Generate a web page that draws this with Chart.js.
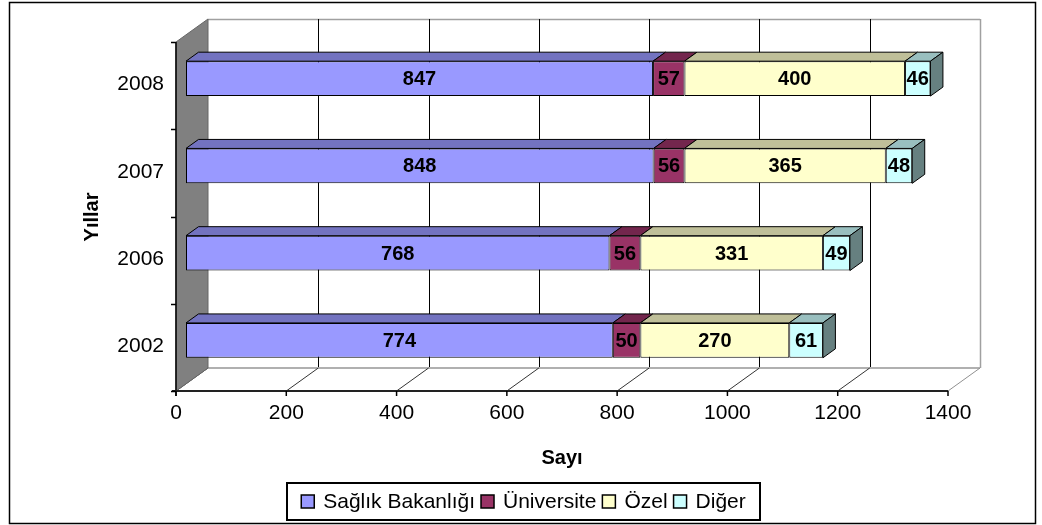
<!DOCTYPE html>
<html>
<head>
<meta charset="utf-8">
<script src="https://cdn.jsdelivr.net/npm/chart.js@4"></script>
<style>
  html, body { margin: 0; padding: 0; background: #fff; }
  canvas { display: block; }
</style>
</head>
<body>
<canvas id="c" width="1042" height="525"></canvas>
<script>
const years = ['2008', '2007', '2006', '2002'];
const saglik = [847, 848, 768, 774];
const universite = [57, 56, 56, 50];
const ozel = [400, 365, 331, 270];
const diger = [46, 48, 49, 61];
const xTicks = [0, 200, 400, 600, 800, 1000, 1200, 1400];

const seriesNames = ['Sağlık Bakanlığı', 'Üniversite', 'Özel', 'Diğer'];
const fronts = ['#9999FF', '#993366', '#FFFFCC', '#CCFFFF'];
const tops = ['#7373C0', '#73264D', '#BFBF99', '#99BFBF'];
const sideColor = '#668080';

// 3d offsets relative to the bar plane (= chart area)
const FRONT = { dx: -10, dy: 7 };
const BACK = { dx: 22, dy: -16 };
const DEPTH = { dx: 12.5, dy: -9 };
const FONT = '"Liberation Sans", Arial, sans-serif';

function poly(ctx, pts, fill, stroke, lw) {
  ctx.beginPath();
  ctx.moveTo(pts[0][0], pts[0][1]);
  for (let i = 1; i < pts.length; i++) ctx.lineTo(pts[i][0], pts[i][1]);
  ctx.closePath();
  if (fill) { ctx.fillStyle = fill; ctx.fill(); }
  if (stroke) { ctx.strokeStyle = stroke; ctx.lineWidth = lw || 1; ctx.stroke(); }
}
function line(ctx, x1, y1, x2, y2, color, lw) {
  ctx.beginPath();
  ctx.moveTo(x1, y1);
  ctx.lineTo(x2, y2);
  ctx.strokeStyle = color;
  ctx.lineWidth = lw || 1;
  ctx.stroke();
}

const box3d = {
  id: 'box3d',
  beforeDatasetsDraw(chart) {
    const ctx = chart.ctx;
    const ca = chart.chartArea;
    const xs = chart.scales.x;
    ctx.save();

    const x0 = xs.getPixelForValue(0), x1 = xs.getPixelForValue(1400);
    const fy0 = ca.top + FRONT.dy, fy1 = ca.bottom + FRONT.dy;
    const by0 = ca.top + BACK.dy, by1 = ca.bottom + BACK.dy;

    // back wall
    ctx.fillStyle = '#fff';
    ctx.fillRect(x0 + BACK.dx, by0, x1 - x0, by1 - by0);
    line(ctx, x0 + BACK.dx, by0 + 0.5, x1 + BACK.dx, by0 + 0.5, '#a0a0a0', 1.5);
    line(ctx, x1 + BACK.dx + 0.5, by0, x1 + BACK.dx + 0.5, by1, '#a0a0a0', 1.5);

    // gridlines on back wall
    xTicks.forEach(v => {
      if (v === 0 || v === 1400) return;
      const px = Math.round(xs.getPixelForValue(v) + BACK.dx) + 0.5;
      line(ctx, px, by0, px, by1, '#000', 1);
    });

    // floor
    line(ctx, x0 + BACK.dx, by1, x1 + BACK.dx, by1, '#b0b0b0', 2);
    xTicks.forEach(v => {
      const px = xs.getPixelForValue(v);
      line(ctx, px + FRONT.dx, fy1, px + BACK.dx, by1, v === 1400 ? '#909090' : '#333', 1);
    });

    // side wall
    poly(ctx, [[x0 + FRONT.dx, fy0], [x0 + BACK.dx, by0], [x0 + BACK.dx, by1], [x0 + FRONT.dx, fy1]], '#808080', '#666', 1);

    // axes on front plane
    line(ctx, x0 + FRONT.dx, fy0, x0 + FRONT.dx, fy1 + 5, '#000', 1.5);
    line(ctx, x0 + FRONT.dx - 4, fy1, x1 + FRONT.dx, fy1, '#222', 2);
    for (let k = 0; k <= years.length; k++) {
      const py = Math.round(fy0 + k * (fy1 - fy0) / years.length) + 0.5;
      line(ctx, x0 + FRONT.dx - 5, py, x0 + FRONT.dx, py, '#000', 1.5);
    }

    ctx.fillStyle = '#000';
    ctx.font = '21px ' + FONT;
    ctx.textAlign = 'center';
    ctx.textBaseline = 'middle';
    xTicks.forEach(v => {
      const px = xs.getPixelForValue(v) + FRONT.dx;
      line(ctx, px, fy1, px, fy1 + 5, '#000', 1.5);
      ctx.fillStyle = '#000';
      ctx.fillText(String(v), px, fy1 + 22);
    });
    ctx.textAlign = 'right';
    const ys = chart.scales.y;
    years.forEach((y, i) => {
      ctx.fillText(y, x0 + FRONT.dx - 12, ys.getPixelForValue(i) + FRONT.dy - 1);
    });

    // axis titles
    ctx.font = 'bold 20px ' + FONT;
    ctx.textAlign = 'center';
    ctx.fillText('Sayı', (x0 + x1) / 2 + FRONT.dx, fy1 + 67);
    ctx.save();
    ctx.translate(92, 217);
    ctx.rotate(-Math.PI / 2);
    ctx.fillText('Yıllar', 0, 0);
    ctx.restore();

    // outer frame
    ctx.strokeStyle = '#000';
    ctx.lineWidth = 1.5;
    ctx.strokeRect(9.5, 2.5, 1026, 521);

    // legend
    ctx.font = '21px ' + FONT;
    const sq = 13, gapText = 9, gapItem = 6;
    let total = 0;
    seriesNames.forEach((n, i) => {
      total += sq + gapText + ctx.measureText(n).width + (i < seriesNames.length - 1 ? gapItem : 0);
    });
    const lx0 = 287, lx1 = 760, ly0 = 483, ly1 = 520;
    ctx.fillStyle = '#fff';
    ctx.fillRect(lx0, ly0, lx1 - lx0, ly1 - ly0);
    ctx.lineWidth = 2;
    ctx.strokeStyle = '#000';
    ctx.strokeRect(lx0, ly0, lx1 - lx0, ly1 - ly0);
    let lx = (lx0 + lx1) / 2 - total / 2;
    const lyc = (ly0 + ly1) / 2;
    ctx.textAlign = 'left';
    seriesNames.forEach((n, i) => {
      ctx.fillStyle = fronts[i];
      ctx.fillRect(lx, lyc - sq / 2, sq, sq);
      ctx.lineWidth = 1.5;
      ctx.strokeStyle = '#000';
      ctx.strokeRect(lx, lyc - sq / 2, sq, sq);
      ctx.fillStyle = '#000';
      ctx.fillText(n, lx + sq + gapText, lyc + 1);
      lx += sq + gapText + ctx.measureText(n).width + gapItem;
    });

    ctx.restore();
  },
  afterDatasetsDraw(chart) {
    const ctx = chart.ctx;
    ctx.save();
    const nSets = chart.data.datasets.length;
    chart.data.datasets.forEach((ds, di) => {
      const meta = chart.getDatasetMeta(di);
      meta.data.forEach((bar, j) => {
        const p = bar.getProps(['x', 'y', 'base', 'height'], true);
        const top = p.y - p.height / 2, bottom = p.y + p.height / 2;
        const l = Math.min(p.x, p.base), r = Math.max(p.x, p.base);
        poly(ctx, [[l, top], [r, top], [r + DEPTH.dx, top + DEPTH.dy], [l + DEPTH.dx, top + DEPTH.dy]], tops[di], '#000', 1);
        if (di === nSets - 1) {
          poly(ctx, [[r, top], [r + DEPTH.dx, top + DEPTH.dy], [r + DEPTH.dx, bottom + DEPTH.dy], [r, bottom]], sideColor, '#000', 1);
        }
      });
    });
    // value labels
    ctx.font = 'bold 20px ' + FONT;
    ctx.textAlign = 'center';
    ctx.textBaseline = 'middle';
    ctx.fillStyle = '#000';
    chart.data.datasets.forEach((ds, di) => {
      const meta = chart.getDatasetMeta(di);
      meta.data.forEach((bar, j) => {
        const p = bar.getProps(['x', 'y', 'base'], true);
        ctx.fillText(String(ds.data[j]), (p.x + p.base) / 2, p.y + 1);
      });
    });
    ctx.restore();
  }
};

const seriesData = [saglik, universite, ozel, diger];

new Chart(document.getElementById('c'), {
  type: 'bar',
  data: {
    labels: years,
    datasets: seriesNames.map((name, i) => ({
      label: name,
      data: seriesData[i],
      backgroundColor: fronts[i],
      borderColor: '#000',
      borderWidth: 1,
      borderSkipped: false,
      categoryPercentage: 1,
      barPercentage: 0.4
    }))
  },
  options: {
    indexAxis: 'y',
    responsive: false,
    animation: false,
    layout: { padding: { left: 186, right: 84, top: 35, bottom: 141 } },
    scales: {
      x: { type: 'linear', min: 0, max: 1400, stacked: true, display: false },
      y: { stacked: true, display: false }
    },
    plugins: {
      legend: { display: false },
      tooltip: { enabled: false }
    }
  },
  plugins: [box3d]
});
</script>
</body>
</html>
